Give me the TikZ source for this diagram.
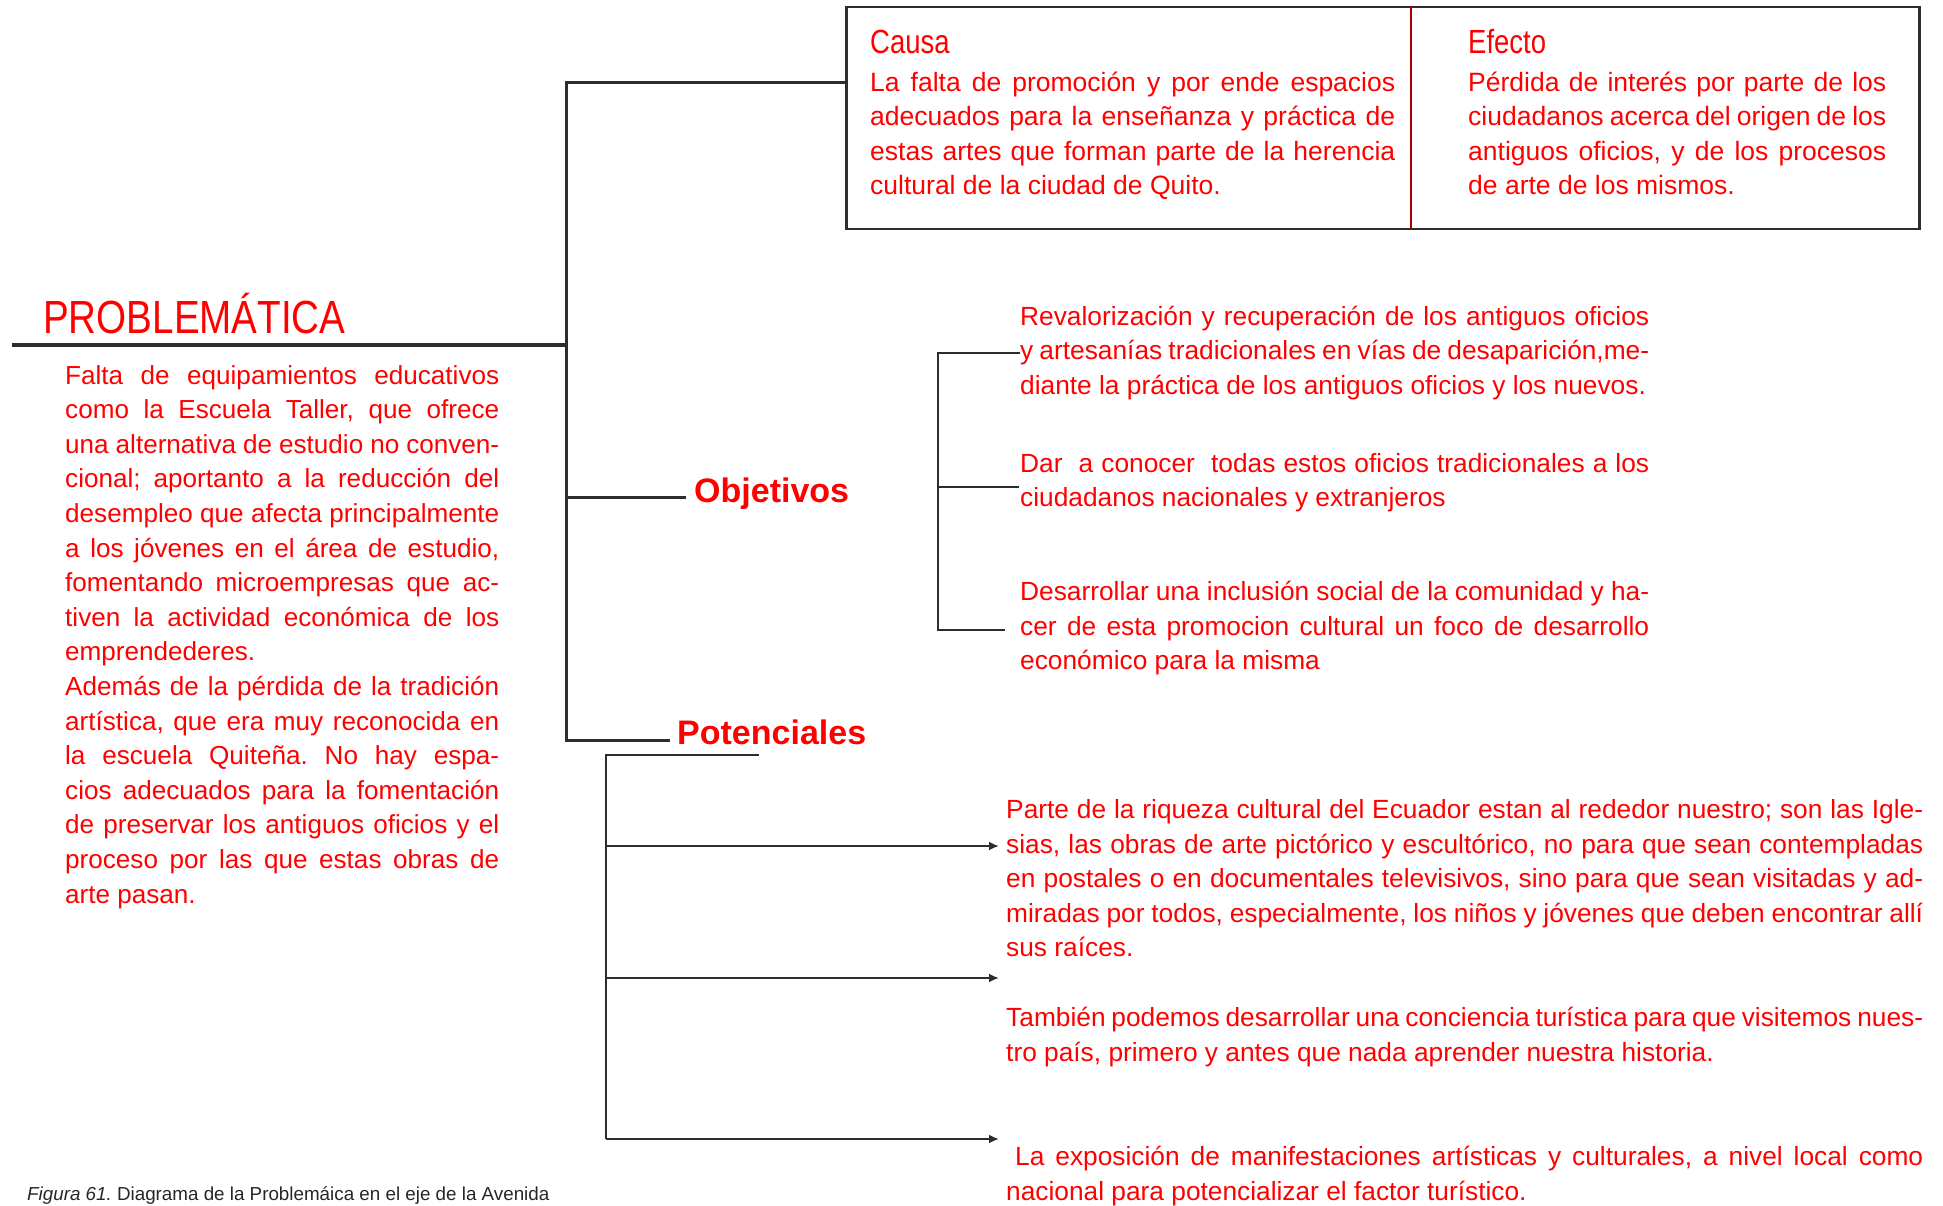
\documentclass[tikz,border=0pt]{standalone}
\usepackage{fontspec}
\setmainfont{Liberation Sans}
\newfontfamily\narrowfont{Liberation Sans}[FakeStretch=0.82]
\newfontfamily\narrowerfont{Liberation Sans}[FakeStretch=0.83]
\usetikzlibrary{arrows.meta}
\definecolor{txtred}{RGB}{255,0,0}
\definecolor{lgray}{RGB}{45,45,45}
\definecolor{divred}{RGB}{170,0,0}
\frenchspacing
\newcommand\jl[1]{\hbox to\hsize{#1}}
\newcommand\nl[1]{\hbox to\hsize{#1\hfil}}
\newcommand\jblock[2]{\vtop{\hsize=#1\relax #2}}
\begin{document}
\begin{tikzpicture}[x=1pt,y=-1pt,
  body/.style={inner sep=0pt, anchor=base west, text=txtred,
    font=\fontsize{26.3}{34.6}\selectfont},
  leftbody/.style={inner sep=0pt, anchor=base west, text=txtred,
    font=\fontsize{26.1}{34.6}\selectfont},
  boxbody/.style={inner sep=0pt, anchor=base west, text=txtred,
    font=\fontsize{26.5}{34.5}\selectfont},
  ttl/.style={inner sep=0pt, anchor=base west, text=txtred},
  conn/.style={draw=lgray, line width=3pt},
  thinconn/.style={draw=lgray, line width=2.4pt},
  arr/.style={draw=lgray, line width=2.6pt, -{Latex[length=10pt,width=9pt]}}
]
\useasboundingbox (0,0) rectangle (1943,1206);

% ---- top box
\node[draw=lgray, line width=2.5pt, minimum width=1073pt, minimum height=222pt,
      inner sep=0pt, anchor=north west] (box) at (845,6) {};
\coordinate (dv) at (1411,6);
\draw[divred, line width=1.3pt] (dv) -- (dv |- box.south);

\node[ttl, font=\narrowfont\fontsize{33.5}{36}\selectfont] (causa) at (870,54) {Causa};
\node[ttl, font=\narrowfont\fontsize{33.5}{36}\selectfont] (efecto) at (1468,54) {Efecto};

\node[boxbody] (causatxt) at (870,91.5) {\jblock{525pt}{%
\jl{La falta de promoción y por ende espacios}%
\jl{adecuados para la enseñanza y práctica de}%
\jl{estas artes que forman parte de la herencia}%
\nl{cultural de la ciudad de Quito.}}};

\node[boxbody] (efectotxt) at (1468,91.5) {\jblock{418pt}{%
\jl{Pérdida de interés por parte de los}%
\jl{ciudadanos acerca del origen de los}%
\jl{antiguos oficios, y de los procesos}%
\nl{de arte de los mismos.}}};

% ---- PROBLEMATICA
\node[ttl, font=\narrowerfont\fontsize{46.5}{50}\selectfont] (prob) at (43,334) {PROBLEMÁTICA};

\node[leftbody] (probtxt) at (65,384) {\jblock{434pt}{%
\jl{Falta de equipamientos educativos}%
\jl{como la Escuela Taller, que ofrece}%
\jl{una alternativa de estudio no conven-}%
\jl{cional; aportanto a la reducción del}%
\jl{desempleo que afecta principalmente}%
\jl{a los jóvenes en el área de estudio,}%
\jl{fomentando microempresas que ac-}%
\jl{tiven la actividad económica de los}%
\nl{emprendederes.}%
\jl{Además de la pérdida de la tradición}%
\jl{artística, que era muy reconocida en}%
\jl{la escuela Quiteña. No hay espa-}%
\jl{cios adecuados para la fomentación}%
\jl{de preservar los antiguos oficios y el}%
\jl{proceso por las que estas obras de}%
\nl{arte pasan.}}};

% ---- main structure lines
\coordinate (hl) at (12,345);
\coordinate (hj) at (566,345);
\coordinate (vt) at (566,83);
\coordinate (vo) at (566,497);
\coordinate (vb) at (566,740);
\coordinate (oe) at (686,497);
\coordinate (pe) at (670,740);
\draw[draw=lgray, line width=4.5pt] (hl) -- (hj);
\draw[conn] (vt -| box.west) -- (vt) -- (vb) -- (pe);
\draw[conn] (vo) -- (oe);

% ---- Objetivos
\node[ttl, font=\bfseries\fontsize{34}{36}\selectfont] (objetivos) at (694,502) {Objetivos};

\coordinate (ot) at (938,353);
\coordinate (om) at (938,487);
\coordinate (ob) at (938,630);
\coordinate (o1) at (1020,353);
\coordinate (o2) at (1019,487);
\coordinate (o3) at (1005,630);
\draw[thinconn] (o1) -- (ot) -- (ob) -- (o3);
\draw[thinconn] (om) -- (o2);

\node[body] (obj1) at (1020,325) {\jblock{629pt}{%
\jl{Revalorización y recuperación de los antiguos oficios}%
\jl{y artesanías tradicionales en vías de desaparición,me-}%
\nl{diante la práctica de los antiguos oficios y los nuevos.}}};

\node[body] (obj2) at (1020,472) {\jblock{629pt}{%
\jl{Dar\ \ a conocer\ \ todas estos oficios tradicionales a los}%
\nl{ciudadanos nacionales y extranjeros}}};

\node[body] (obj3) at (1020,600.5) {\jblock{629pt}{%
\jl{Desarrollar una inclusión social de la comunidad y ha-}%
\jl{cer de esta promocion cultural un foco de desarrollo}%
\nl{económico para la misma}}};

% ---- Potenciales
\node[ttl, font=\bfseries\fontsize{34}{36}\selectfont] (potenciales) at (677,744) {Potenciales};

\coordinate (pt) at (759,755);
\coordinate (pv) at (606,755);
\coordinate (p1) at (606,846);
\coordinate (p2) at (606,978);
\coordinate (pb) at (606,1139);
\coordinate (a1) at (999,846);
\coordinate (a2) at (999,978);
\coordinate (a3) at (999,1139);
\draw[thinconn] (pt) -- (pv) -- (pb);
\draw[arr] (p1) -- (a1);
\draw[arr] (p2) -- (a2);
\draw[arr] (pb) -- (a3);

\node[body] (pot1) at (1006,818.5) {\jblock{917pt}{%
\jl{Parte de la riqueza cultural del Ecuador estan al rededor nuestro; son las Igle-}%
\jl{sias, las obras de arte pictórico y escultórico, no para que sean contempladas}%
\jl{en postales o en documentales televisivos, sino para que sean visitadas y ad-}%
\jl{miradas por todos, especialmente, los niños y jóvenes que deben encontrar allí}%
\nl{sus raíces.}}};

\node[body] (pot2) at (1006,1026.5) {\jblock{917pt}{%
\jl{También podemos desarrollar una conciencia turística para que visitemos nues-}%
\nl{tro país, primero y antes que nada aprender nuestra historia.}}};

\node[body] (pot3) at (1006,1165.5) {\jblock{917pt}{%
\jl{\kern9pt La exposición de manifestaciones artísticas y culturales, a nivel local como}%
\nl{nacional para potencializar el factor turístico.}}};

% ---- caption
\node[inner sep=0pt, anchor=base west, text=black!85,
      font=\fontsize{18.8}{21}\selectfont] (caption) at (27,1200)
  {\textit{Figura 61.} Diagrama de la Problemáica en el eje de la Avenida};
\end{tikzpicture}
\end{document}
